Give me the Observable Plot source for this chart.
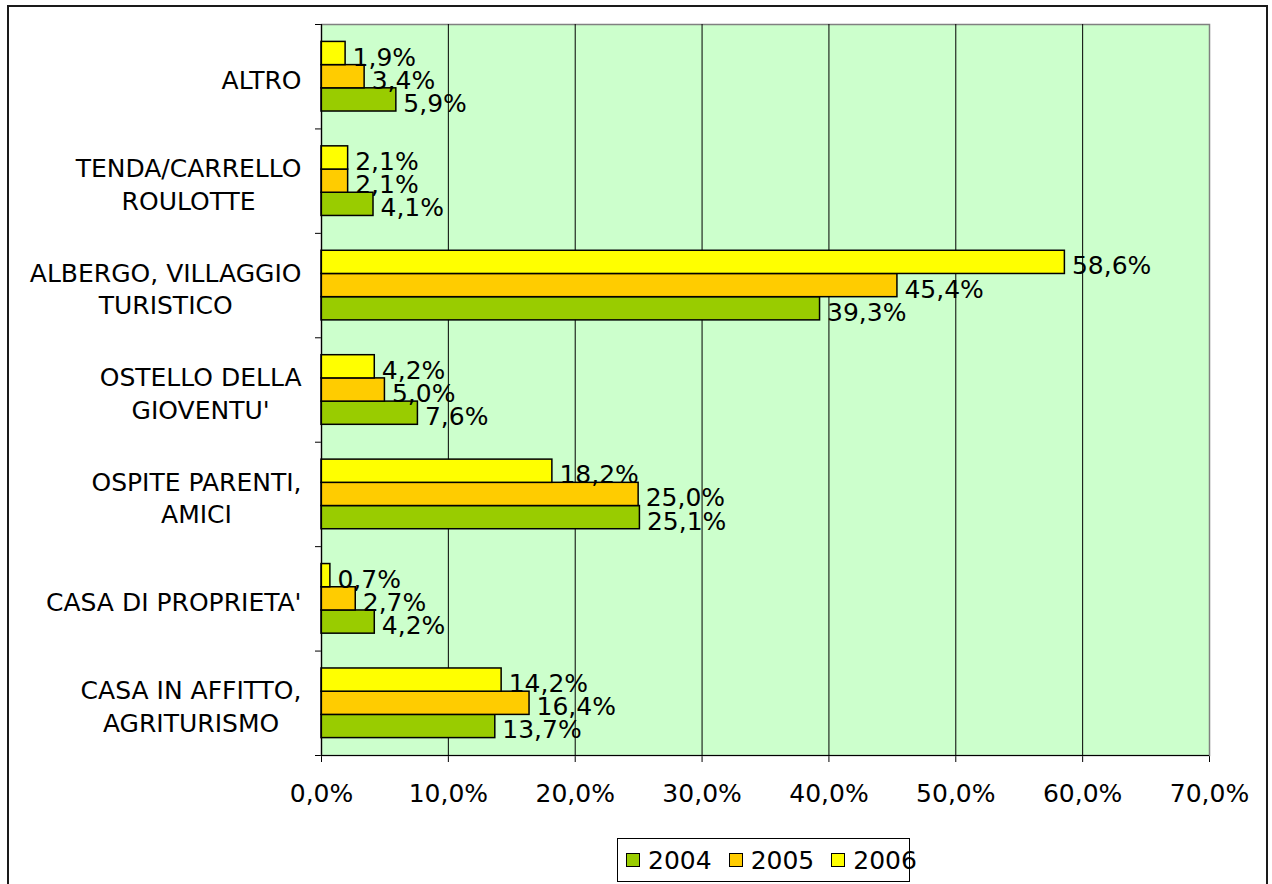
<!DOCTYPE html>
<html>
<head>
<meta charset="utf-8">
<script src="https://cdn.jsdelivr.net/npm/d3@7"></script>
<script src="https://cdn.jsdelivr.net/npm/@observablehq/plot@0.6"></script>
<style>
  html, body { margin: 0; padding: 0; background: #fff; overflow: hidden; }
  body { width: 1272px; height: 884px; position: relative; font-family: "DejaVu Sans", Verdana, sans-serif; }
  #border { position: absolute; left: 7px; top: 5px; width: 1261px; height: 920px; border: 2px solid #1a1a1a; box-sizing: border-box; }
  #chart { position: absolute; left: 0; top: 0; }
  #legend { position: absolute; left: 617px; top: 838px; width: 293px; height: 44px; border: 1px solid #000; box-sizing: border-box; background: #fff;
            display: flex; align-items: center; padding-left: 8px; font-size: 25px; color: #000; }
  #legend .sw { width: 12px; height: 12px; border: 1px solid #000; margin-right: 8px; }
  #legend .it { display: flex; align-items: center; margin-right: 17px; }
</style>
</head>
<body>
<div id="border"></div>
<div id="chart"></div>
<div id="legend"></div>
<script>
const categories = [
  "ALTRO",
  "TENDA/CARRELLO\nROULOTTE",
  "ALBERGO, VILLAGGIO\nTURISTICO",
  "OSTELLO DELLA\nGIOVENTU'",
  "OSPITE PARENTI,\nAMICI",
  "CASA DI PROPRIETA'",
  "CASA IN AFFITTO,\nAGRITURISMO"
];
const years = ["2004", "2005", "2006"];
const values2004 = [5.9, 4.1, 39.3, 7.6, 25.1, 4.2, 13.7];
const values2005 = [3.4, 2.1, 45.4, 5.0, 25.0, 2.7, 16.4];
const values2006 = [1.9, 2.1, 58.6, 4.2, 18.2, 0.7, 14.2];
const yearColors = ["#99CC00", "#FFCC00", "#FFFF00"];
const xTicks = [0, 10, 20, 30, 40, 50, 60, 70];

const series = [values2004, values2005, values2006];
const fmt = v => v.toFixed(1).replace(".", ",") + "%";

// Build rows: within each category band, 2006 on top, then 2005, then 2004
const slots = 3 + 1.5; // three bars plus 150% gap
const rows = [];
categories.forEach((cat, i) => {
  years.forEach((yr, k) => {
    const j = 2 - k;
    rows.push({
      cat, year: yr, value: series[k][i],
      y1: i + (0.75 + j) / slots,
      y2: i + (1.75 + j) / slots
    });
  });
});

const FONT = "DejaVu Sans";
const FS = 25;
const ctx = document.createElement("canvas").getContext("2d");
ctx.font = `${FS}px "${FONT}"`;
const lineW = s => Math.max(...s.split("\n").map(l => ctx.measureText(l).width));

const catMarks = categories.map((c, i) =>
  Plot.text([{c, pos: i + 0.5}], {
    x: () => 0, y: "pos", text: "c",
    textAnchor: "middle", lineAnchor: "middle", lineHeight: 1.3,
    dx: -(20 + lineW(c) / 2), dy: 2, fontSize: FS, fill: "#000"
  })
);

const W = 1272, H = 830;
const chart = Plot.plot({
  width: W, height: H,
  marginLeft: 321, marginRight: 63, marginTop: 24, marginBottom: H - 755,
  style: { fontFamily: FONT, fontSize: FS + "px", color: "#000", background: "transparent", overflow: "visible" },
  x: { domain: [0, 70], ticks: xTicks.length - 1, tickFormat: fmt, tickSize: 7, tickPadding: 22, label: null },
  y: { domain: [categories.length, 0], ticks: categories.length, tickFormat: () => "", tickSize: 6, label: null },
  marks: [
    Plot.frame({ fill: "#CCFFCC", stroke: "#808080", strokeWidth: 1.5 }),
    Plot.ruleX(xTicks.filter(t => t > 0 && t < 70), { stroke: "#000", strokeWidth: 1 }),
    Plot.rect(rows, {
      x1: () => 0, x2: "value", y1: "y1", y2: "y2",
      fill: d => yearColors[years.indexOf(d.year)],
      stroke: "#000", strokeWidth: 1.5
    }),
    Plot.ruleX([0], { stroke: "#000", strokeWidth: 1.2 }),
    Plot.ruleY([categories.length], { stroke: "#000", strokeWidth: 1.2 }),
    Plot.text(rows, {
      x: "value", y: d => (d.y1 + d.y2) / 2, text: d => fmt(d.value),
      textAnchor: "start", dx: 7, dy: 4, fontSize: FS, fill: "#000"
    }),
    ...catMarks
  ]
});
document.getElementById("chart").appendChild(chart);

const legend = document.getElementById("legend");
years.forEach((yr, k) => {
  const it = document.createElement("div");
  it.className = "it";
  const sw = document.createElement("div");
  sw.className = "sw";
  sw.style.background = yearColors[k];
  const t = document.createElement("span");
  t.textContent = yr;
  it.appendChild(sw); it.appendChild(t);
  legend.appendChild(it);
});
</script>
</body>
</html>
